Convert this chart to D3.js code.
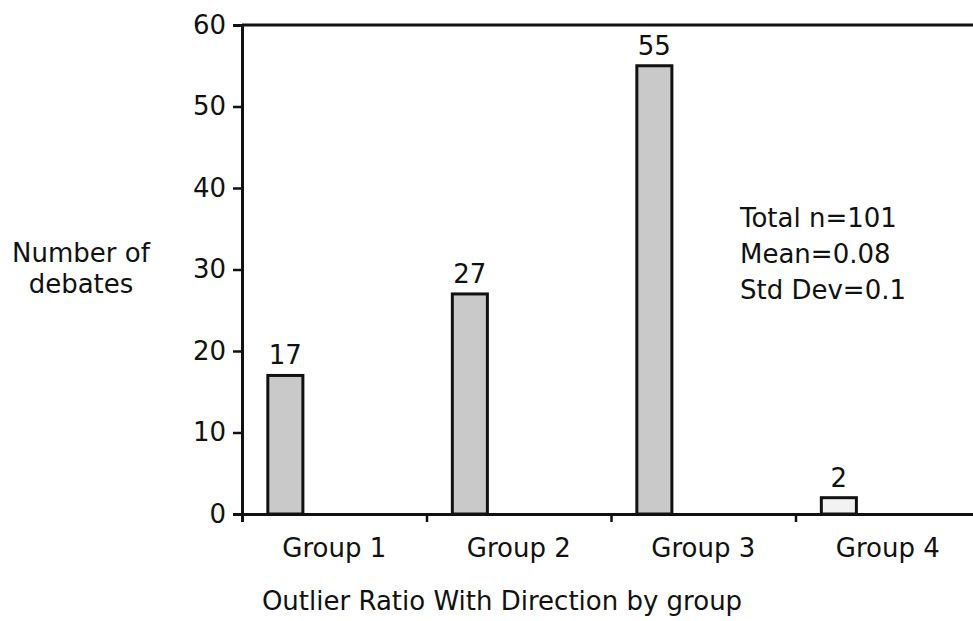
<!DOCTYPE html>
<html>
<head>
<meta charset="utf-8">
<script src="https://cdn.jsdelivr.net/npm/d3@7"></script>
<style>
  body { margin: 0; background: #fff; }
  svg text { font-family: "DejaVu Sans", sans-serif; fill: #111; }
</style>
</head>
<body>
<script>
//////////////////////////////////////////////////////////////////////////////
// Data

var groups = ["Group 1", "Group 2", "Group 3", "Group 4"];
var counts = [17, 27, 55, 2];
var yTicks = [0, 10, 20, 30, 40, 50, 60];
var statLines = ["Total n=101", "Mean=0.08", "Std Dev=0.1"];

//////////////////////////////////////////////////////////////////////////////
// Scales

var svgW = 973, svgH = 621;
var plotLeft = 242, plotRight = 980, plotTop = 25, plotBottom = 514;
var fontSize = 26;

var xBand = d3.scaleBand().domain(groups).range([plotLeft, plotRight]);
var xEdge = d3.scaleLinear().domain([0, groups.length]).range([plotLeft, plotRight]);
var yScale = d3.scaleLinear().domain([0, 60]).range([plotBottom, plotTop]);

var svg = d3.select("body").append("svg")
    .attr("width", svgW)
    .attr("height", svgH);

// bars
var bars = groups.map(function(g, i) { return { g: g, v: counts[i] }; });
var bw = xBand.bandwidth();

svg.append("g")
    .selectAll("rect")
    .data(bars)
    .enter()
    .append("rect")
    .attr("x", function(d) { return xBand(d.g) + bw * 0.14; })
    .attr("y", function(d) { return yScale(d.v); })
    .attr("width", bw * 0.19)
    .attr("height", function(d) { return yScale(0) - yScale(d.v); })
    .attr("fill", function(d) { return d.v > 5 ? "#c9c9c9" : "#f2f2f2"; })
    .attr("stroke", "#111")
    .attr("stroke-width", 3);

svg.append("g")
    .selectAll("text")
    .data(bars)
    .enter()
    .append("text")
    .attr("x", function(d) { return xBand(d.g) + bw * 0.14 + bw * 0.095; })
    .attr("y", function(d) { return yScale(d.v) - 11; })
    .attr("text-anchor", "middle")
    .attr("font-size", fontSize)
    .text(function(d) { return d.v; });

// y axis
var yAxis = svg.append("g")
    .attr("transform", "translate(" + plotLeft + ",0)")
    .call(d3.axisLeft(yScale).tickValues(yTicks).tickSize(9).tickPadding(7));
yAxis.selectAll("text").attr("font-size", fontSize).attr("font-family", "DejaVu Sans").attr("fill", "#111");

// x axis: ticks at band edges
var xAxis = svg.append("g")
    .attr("transform", "translate(0," + plotBottom + ")")
    .call(d3.axisBottom(xEdge).tickValues([0, 1, 2, 3]).tickSize(8).tickFormat(""));

[yAxis, xAxis].forEach(function(a) {
    a.select(".domain").attr("stroke", "#111").attr("stroke-width", 3);
    a.selectAll(".tick line").attr("stroke", "#111").attr("stroke-width", 2.5);
});

// top frame line
svg.append("line")
    .attr("x1", plotLeft).attr("x2", svgW)
    .attr("y1", yScale(60)).attr("y2", yScale(60))
    .attr("stroke", "#111").attr("stroke-width", 3);

// group labels
svg.append("g")
    .selectAll("text")
    .data(groups)
    .enter()
    .append("text")
    .attr("x", function(g) { return xBand(g) + bw / 2; })
    .attr("y", 557)
    .attr("text-anchor", "middle")
    .attr("font-size", fontSize)
    .text(function(g) { return g; });

// axis titles
svg.append("text")
    .attr("x", 502).attr("y", 610)
    .attr("text-anchor", "middle")
    .attr("font-size", fontSize)
    .text("Outlier Ratio With Direction by group");

svg.append("text")
    .attr("x", 81).attr("y", 262)
    .attr("text-anchor", "middle")
    .attr("font-size", fontSize)
    .text("Number of");
svg.append("text")
    .attr("x", 81).attr("y", 293)
    .attr("text-anchor", "middle")
    .attr("font-size", fontSize)
    .text("debates");

// stats box
svg.append("g")
    .selectAll("text")
    .data(statLines)
    .enter()
    .append("text")
    .attr("x", 740)
    .attr("y", function(d, i) { return 227 + i * 36; })
    .attr("font-size", fontSize)
    .text(function(d) { return d; });
</script>
</body>
</html>
